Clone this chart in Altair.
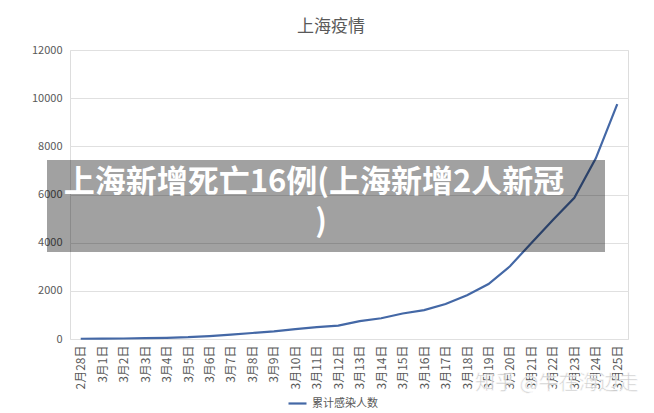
import altair as alt
import pandas as pd

dates = ["2月28日"] + [f"3月{d}日" for d in range(1, 26)]
cumulative = [10, 15, 20, 35, 50, 75, 120, 180, 250, 320, 410, 490, 555,
              740, 860, 1060, 1200, 1450, 1820, 2280, 3020, 3990, 4940,
              5860, 7500, 9750]
series_name = "累计感染人数"
y_ticks = [0, 2000, 4000, 6000, 8000, 10000, 12000]
overlay_lines = ["上海新增死亡16例(上海新增2人新冠", ")"]
watermark = "知乎 @牛在海边走"
chart_title = "上海疫情"

df = pd.DataFrame({"date": dates, "value": cumulative, "series": series_name})

FONT = "Noto Sans CJK SC"
GRAY = "#595959"

line = alt.Chart(df).mark_line(strokeWidth=2.2).encode(
    x=alt.X("date:N", sort=dates, title=None,
            scale=alt.Scale(paddingInner=0, paddingOuter=0),
            axis=alt.Axis(labelAngle=270, labelFontSize=12, labelColor=GRAY,
                          labelFont=FONT, ticks=False, domain=False,
                          domainOpacity=0, gridOpacity=0,
                          labelPadding=6, grid=False)),
    y=alt.Y("value:Q", title=None,
            scale=alt.Scale(domain=[0, 12000], nice=False),
            axis=alt.Axis(values=y_ticks, format="d", labelFontSize=11,
                          labelColor=GRAY, labelFont=FONT, ticks=False,
                          domain=False, domainOpacity=0,
                          gridColor="#e0e0e0", labelPadding=8)),
    color=alt.Color("series:N",
                    scale=alt.Scale(range=["#4468A6"]),
                    legend=alt.Legend(title=None, orient="none",
                                      legendX=217, legendY=343,
                                      symbolType="stroke", symbolSize=324,
                                      symbolStrokeWidth=2.2,
                                      labelFontSize=11, labelColor=GRAY,
                                      labelFont=FONT)),
)

overlay_df = pd.DataFrame({"dummy": [0]})
rect = alt.Chart(overlay_df).mark_rect(color="black", opacity=0.37).encode(
    x=alt.value(-23), x2=alt.value(535), y=alt.value(110), y2=alt.value(202)
)

text1 = alt.Chart(pd.DataFrame({"t": [overlay_lines[0]]})).mark_text(
    font=FONT, fontSize=31, fontWeight="bold", color="white",
    align="center", baseline="middle"
).encode(text="t:N", x=alt.value(244), y=alt.value(133))

text2 = alt.Chart(pd.DataFrame({"t": [overlay_lines[1]]})).mark_text(
    font=FONT, fontSize=31, fontWeight="bold", color="white",
    align="center", baseline="middle"
).encode(text="t:N", x=alt.value(251), y=alt.value(173))

wm = alt.Chart(pd.DataFrame({"t": [watermark]})).mark_text(
    font=FONT, fontSize=20, color="#c4c4c4", opacity=0.85,
    align="left", baseline="middle", stroke="white", strokeWidth=0.6
).encode(text="t:N", x=alt.value(405), y=alt.value(334))

title_txt = alt.Chart(pd.DataFrame({"t": [chart_title]})).mark_text(
    font=FONT, fontSize=17, color=GRAY, align="center", baseline="middle"
).encode(text="t:N", x=alt.value(261), y=alt.value(-23))

chart = alt.layer(line, rect, text1, text2, wm, title_txt).properties(
    width=558, height=289,
    autosize=alt.AutoSizeParams(type="none"),
    padding={"left": 70, "top": 50, "right": 26, "bottom": 74},
).configure_view(stroke="transparent", strokeWidth=0
).configure_axis(domain=False, ticks=False
).configure_axisX(grid=False).configure(background="white")

chart.save("out.html", embed_options={"renderer": "svg", "actions": False})
